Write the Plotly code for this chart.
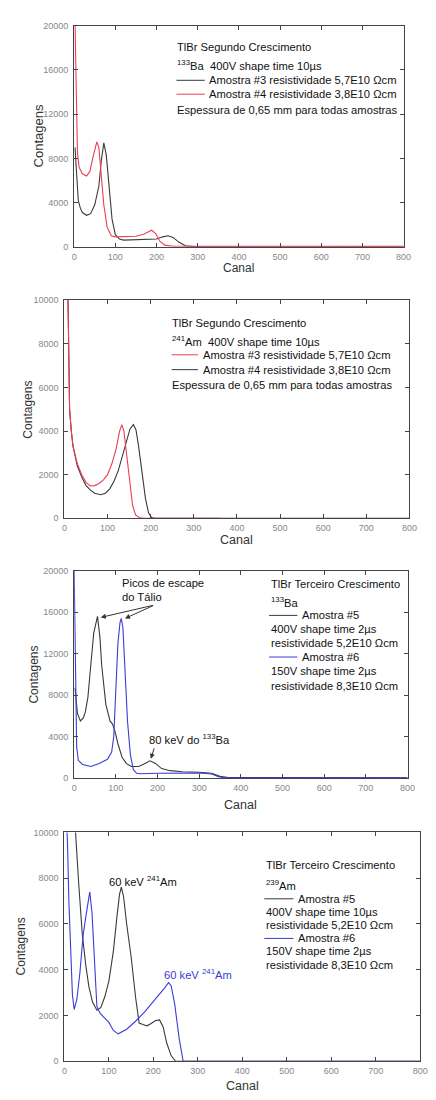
import plotly.graph_objects as go

W, H = 436, 1100

# ---------------- data ----------------
# Panel 1: 133Ba, segundo crescimento
p1_x_am3 = [2, 6, 10, 15, 20, 30, 40, 50, 60, 66, 72, 78, 85, 92, 100, 110, 120, 150, 180, 200, 215, 228, 240, 255, 270, 290, 320, 800]
p1_y_am3 = [9000, 6000, 4200, 3500, 3100, 2850, 3000, 3800, 5500, 7800, 9400, 8300, 5000, 2500, 1100, 700, 600, 620, 650, 700, 900, 1000, 850, 400, 100, 20, 0, 0]
p1_x_am4 = [2, 5, 8, 12, 20, 30, 38, 45, 55, 60, 66, 72, 80, 90, 100, 130, 150, 170, 188, 198, 208, 220, 240, 800]
p1_y_am4 = [20500, 12000, 8500, 7200, 6600, 6400, 6800, 8000, 9500, 9000, 6500, 3800, 1800, 1000, 900, 900, 950, 1150, 1500, 1200, 500, 150, 50, 40]

# Panel 2: 241Am, segundo crescimento
p2_x_am3 = [8, 10, 12, 16, 20, 30, 40, 50, 60, 70, 80, 90, 100, 110, 120, 128, 133, 138, 145, 152, 158, 165, 175, 185, 360]
p2_y_am3 = [10500, 7000, 5000, 4000, 3300, 2500, 2000, 1650, 1480, 1500, 1600, 1750, 2000, 2500, 3200, 4000, 4300, 4000, 2800, 1500, 600, 150, 20, 0, 0]
p2_x_am4 = [8, 10, 12, 16, 20, 30, 40, 50, 60, 70, 84, 95, 105, 115, 125, 135, 145, 152, 160, 166, 172, 180, 188, 195, 202, 210, 800]
p2_y_am4 = [10500, 7000, 5000, 4000, 3300, 2400, 1900, 1500, 1300, 1150, 1080, 1150, 1350, 1700, 2200, 2900, 3600, 4100, 4300, 4050, 3300, 2000, 900, 250, 30, 0, 0]

# Panel 3: 133Ba, terceiro crescimento
p3_x_am5 = [2, 8, 15, 22, 27, 33, 39, 47, 56, 62, 66, 76, 86, 92, 98, 105, 115, 125, 137, 155, 170, 182, 195, 210, 230, 260, 300, 330, 350, 370, 800]
p3_y_am5 = [8700, 6200, 5500, 5800, 6400, 7800, 10500, 14000, 15600, 13500, 10900, 7100, 5500, 5200, 4500, 3300, 2000, 1400, 1100, 1100, 1400, 1650, 1400, 900, 700, 600, 550, 450, 150, 30, 0]
p3_x_am6 = [0, 3, 6, 10, 20, 40, 60, 80, 90, 95, 98, 105, 110, 113, 117, 122, 128, 135, 142, 150, 160, 200, 250, 300, 330, 345, 360, 800]
p3_y_am6 = [20000, 8000, 3000, 1700, 1300, 1100, 1400, 1800, 2500, 4000, 7000, 13000, 15000, 15400, 14500, 10500, 5500, 2200, 800, 450, 400, 450, 500, 480, 380, 150, 0, 0]

# Panel 4: Am, terceiro crescimento
p4_x_am5 = [12, 18, 25, 32, 40, 48, 55, 63, 73, 82, 91, 100, 110, 118, 124, 128, 133, 140, 150, 160, 168, 178, 186, 195, 205, 214, 222, 230, 240, 250, 800]
p4_y_am5 = [13000, 11500, 10000, 7800, 5600, 4200, 3260, 2600, 2230, 2350, 2830, 3500, 4800, 6300, 7300, 7610, 7200, 6000, 4570, 2800, 1670, 1600, 1550, 1650, 1780, 1810, 1500, 800, 250, 0, 0]
p4_x_am6 = [4, 7, 10, 14, 18, 22, 28, 35, 42, 48, 57, 62, 67, 73, 80, 91, 100, 110, 121, 140, 160, 180, 200, 215, 225, 234, 240, 248, 258, 267, 800]
p4_y_am6 = [11000, 9500, 7000, 4500, 2900, 2270, 2700, 3900, 5500, 6300, 7400, 6500, 4500, 2400, 2100, 1900, 1700, 1350, 1200, 1400, 1750, 2150, 2600, 2950, 3200, 3440, 3300, 2500, 1000, 0, 0]

x_range = [0, 800]
y_ranges = [[0, 20000], [0, 10000], [0, 20000], [0, 10000]]
y_dticks = [4000, 2000, 4000, 2000]

# ---------------- styles ----------------
BLACK = "#3a3a3a"
RED = "#ee3b55"
BLUE = "#3b3bd6"
FONT = "Liberation Sans, Arial, sans-serif"
TXT = 11.2
TXT_COLOR = "#111"

# plot areas in pixels: (left, right, top, bottom)
boxes = [(73, 411, 21, 244), (63, 417, 298, 518), (73, 415, 571, 780), (63, 428, 835, 1066)]


def px(xp):
    return xp / W


def py(yp):
    return 1 - yp / H


fig = go.Figure()

series = [
    [(p1_x_am3, p1_y_am3, BLACK), (p1_x_am4, p1_y_am4, RED)],
    [(p2_x_am4, p2_y_am4, BLACK), (p2_x_am3, p2_y_am3, RED)],
    [(p3_x_am5, p3_y_am5, BLACK), (p3_x_am6, p3_y_am6, BLUE)],
    [(p4_x_am5, p4_y_am5, BLACK), (p4_x_am6, p4_y_am6, BLUE)],
]

for i, panel in enumerate(series):
    sfx = "" if i == 0 else str(i + 1)
    for xs, ys, c in panel:
        fig.add_trace(go.Scatter(x=xs, y=ys, mode="lines", line=dict(color=c, width=1.1),
                                 xaxis="x" + sfx, yaxis="y" + sfx, showlegend=False, hoverinfo="skip"))

layout = dict(width=W, height=H, margin=dict(l=0, r=0, t=0, b=0),
              paper_bgcolor="white", plot_bgcolor="white", showlegend=False,
              font=dict(family=FONT, color=TXT_COLOR))

for i, (l, r, t, b) in enumerate(boxes):
    sfx = "" if i == 0 else str(i + 1)
    common = dict(showgrid=False, zeroline=False, showline=True, linecolor="#444", linewidth=1,
                  mirror="ticks", ticks="inside", ticklen=4, tickcolor="#444", tickformat="d",
                  tickfont=dict(family=FONT, size=9, color="#888"))
    layout["xaxis" + sfx] = dict(domain=[px(l), px(r)], range=x_range, dtick=100, tick0=0,
                                 anchor="y" + sfx, ticklabelstandoff=1, **common)
    layout["yaxis" + sfx] = dict(domain=[py(b), py(t)], range=y_ranges[i], dtick=y_dticks[i], tick0=0,
                                 anchor="x" + sfx, ticklabelstandoff=3, **common)

annotations = []
shapes = []


def text(xp, yp, s, size=TXT, color=TXT_COLOR, anchor="left"):
    annotations.append(dict(x=px(xp), y=py(yp), xref="paper", yref="paper", text=s, showarrow=False,
                            xanchor=anchor, yanchor="middle", align="left",
                            font=dict(family=FONT, size=size, color=color)))


def key(x0, x1, yp, color):
    shapes.append(dict(type="line", xref="paper", yref="paper", x0=px(x0), x1=px(x1), y0=py(yp), y1=py(yp),
                       line=dict(color=color, width=1)))


# axis titles
canal_y = [265, 540, 807, 1091]
canal_size = [12, 12.5, 12.5, 12.5]
cont_x = [36, 26, 32, 18]
cont_size = [13, 12, 12, 12]
for i, (l, r, t, b) in enumerate(boxes):
    text((l + r) / 2, canal_y[i], "Canal", size=canal_size[i], color="#333", anchor="center")
    annotations.append(dict(x=px(cont_x[i]), y=py((t + b) / 2), xref="paper", yref="paper", text="Contagens",
                            showarrow=False, textangle=-90, xanchor="center", yanchor="middle",
                            font=dict(family=FONT, size=cont_size[i], color="#333")))

# panel 1 legend
text(176, 42, "TlBr Segundo Crescimento")
text(176, 61, "<sup>133</sup>Ba  400V shape time 10µs")
key(178, 207, 76, BLACK)
text(209, 76, "Amostra #3 resistividade 5,7E10 Ωcm")
key(178, 207, 90, RED)
text(209, 90, "Amostra #4 resistividade 3,8E10 Ωcm")
text(176, 106, "Espessura de 0,65 mm para todas amostras")

# panel 2 legend
text(171, 321, "TlBr Segundo Crescimento")
text(171, 339, "<sup>241</sup>Am  400V shape time 10µs")
key(173, 200, 353, RED)
text(203, 353, "Amostra #3 resistividade 5,7E10 Ωcm")
key(173, 200, 368, BLACK)
text(203, 368, "Amostra #4 resistividade 3,8E10 Ωcm")
text(171, 383, "Espessura de 0,65 mm para todas amostras")

# panel 3 legend
text(273, 584, "TlBr Terceiro Crescimento")
text(273, 602, "<sup>133</sup>Ba")
key(273, 302, 616, BLACK)
text(305, 616, "Amostra #5")
text(273, 630, "400V shape time 2µs")
text(273, 644, "resistividade 5,2E10 Ωcm")
key(273, 302, 658, BLUE)
text(305, 658, "Amostra #6")
text(273, 672, "150V shape time 2µs")
text(273, 687, "resistividade 8,3E10 Ωcm")

# panel 3 notes
text(120, 583, "Picos de escape")
text(120, 597, "do Tálio")
text(148, 741, "80 keV do <sup>133</sup>Ba")
for tip_x, tip_y in [(64, 15500), (122, 15400)]:
    annotations.append(dict(x=tip_x, y=tip_y, xref="x3", yref="y3", ax=193, ay=16700, axref="x3", ayref="y3",
                            text="", showarrow=True, arrowhead=2, arrowsize=1, arrowwidth=1, arrowcolor="#333"))
annotations.append(dict(x=184, y=1850, xref="x3", yref="y3", ax=193, ay=3000, axref="x3", ayref="y3",
                        text="", showarrow=True, arrowhead=2, arrowsize=1, arrowwidth=1, arrowcolor="#333"))

# panel 4 legend
text(268, 868, "TlBr Terceiro Crescimento")
text(268, 888, "<sup>239</sup>Am")
key(268, 298, 902, BLACK)
text(301, 902, "Amostra #5")
text(268, 915, "400V shape time 10µs")
text(268, 928, "resistividade 5,2E10 Ωcm")
key(268, 298, 942, BLUE)
text(301, 942, "Amostra #6")
text(268, 955, "150V shape time 2µs")
text(268, 969, "resistividade 8,3E10 Ωcm")

# panel 4 notes
text(107, 884, "60 keV <sup>241</sup>Am")
text(163, 978, "60 keV <sup>241</sup>Am", color=BLUE)

layout["annotations"] = annotations
layout["shapes"] = shapes
fig.update_layout(**layout)
fig.write_html("out.html", config={"displayModeBar": False},
               post_script="document.body.style.margin='0';")
